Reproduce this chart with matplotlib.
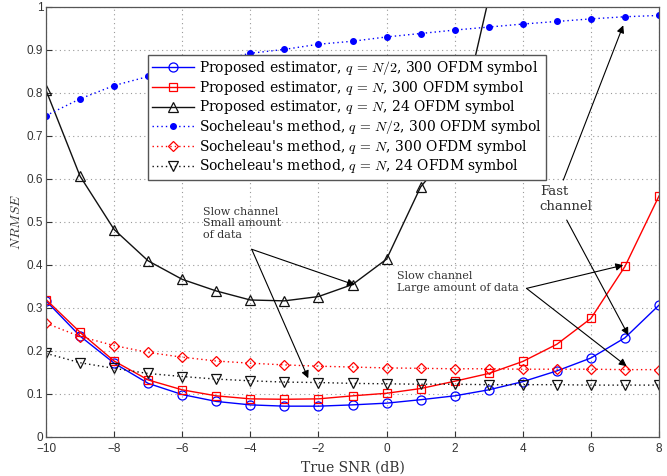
import matplotlib
matplotlib.use("Agg")
import matplotlib.pyplot as plt
import numpy as np

snr = [-10, -9, -8, -7, -6, -5, -4, -3, -2, -1, 0, 1, 2, 3, 4, 5, 6, 7, 8]

prop_half_300 = [0.316, 0.234, 0.171, 0.124, 0.098, 0.082, 0.074, 0.071, 0.071, 0.074,
                 0.078, 0.086, 0.095, 0.109, 0.128, 0.153, 0.183, 0.230, 0.306]
prop_n_300 = [0.319, 0.243, 0.176, 0.132, 0.109, 0.095, 0.088, 0.087, 0.088, 0.095,
              0.101, 0.112, 0.129, 0.147, 0.175, 0.215, 0.275, 0.396, 0.560]
prop_n_24 = [0.806, 0.606, 0.482, 0.409, 0.366, 0.339, 0.318, 0.316, 0.326, 0.354,
             0.413, 0.581, 0.676, 1.02]
snr_24 = snr[:len(prop_n_24)]

soch_half_300 = [0.747, 0.786, 0.817, 0.838, 0.857, 0.874, 0.892, 0.901, 0.913, 0.920,
                 0.930, 0.938, 0.946, 0.953, 0.960, 0.966, 0.972, 0.977, 0.980]
soch_n_300 = [0.264, 0.233, 0.212, 0.196, 0.185, 0.176, 0.171, 0.167, 0.164, 0.162,
              0.160, 0.159, 0.158, 0.158, 0.157, 0.157, 0.157, 0.156, 0.156]
soch_n_24 = [0.194, 0.172, 0.159, 0.147, 0.140, 0.134, 0.130, 0.127, 0.126, 0.124,
             0.123, 0.122, 0.122, 0.121, 0.121, 0.121, 0.120, 0.120, 0.120]

labels = [
    r"Proposed estimator, $q\,=\,N/2$, 300 OFDM symbol",
    r"Proposed estimator, $q\,=\,N$, 300 OFDM symbol",
    r"Proposed estimator, $q\,=\,N$, 24 OFDM symbol",
    r"Socheleau's method, $q\,=\,N/2$, 300 OFDM symbol",
    r"Socheleau's method, $q\,=\,N$, 300 OFDM symbol",
    r"Socheleau's method, $q\,=\,N$, 24 OFDM symbol",
]

plt.rcParams['mathtext.fontset'] = 'cm'
serif = 'DejaVu Serif'
sans = 'Liberation Sans'

fig = plt.figure(figsize=(6.67, 4.76), dpi=100)
ax = fig.add_axes([0.069, 0.0826, 0.919, 0.903])

dot = (0, (1, 2.2))
ax.plot(snr, prop_half_300, '-', color='#0000ff', lw=1.0, marker='o', ms=6.5,
        mfc='none', mec='#0000ff', mew=0.9, label=labels[0])
ax.plot(snr, prop_n_300, '-', color='#ff0000', lw=1.0, marker='s', ms=6,
        mfc='none', mec='#ff0000', mew=0.9, label=labels[1])
ax.plot(snr_24, prop_n_24, '-', color='#111111', lw=1.0, marker='^', ms=7,
        mfc='none', mec='#111111', mew=0.9, label=labels[2])
ax.plot(snr, soch_half_300, linestyle=dot, color='#0000ff', lw=1.0, marker='o', ms=4,
        mfc='#0000ff', mec='#0000ff', label=labels[3])
ax.plot(snr, soch_n_300, linestyle=dot, color='#ff0000', lw=1.0, marker='D', ms=5.5,
        mfc='none', mec='#ff0000', mew=0.9, label=labels[4])
ax.plot(snr, soch_n_24, linestyle=dot, color='#111111', lw=1.0, marker='v', ms=7,
        mfc='none', mec='#111111', mew=0.9, label=labels[5])

ax.set_xlim(-10, 8)
ax.set_ylim(0, 1)
xt = np.arange(-10, 9, 2)
yt = np.round(np.arange(0, 1.01, 0.1), 1)
ax.set_xticks(xt)
ax.set_yticks(yt)
ax.set_xticklabels([f"{v:g}".replace('-', '\u2212') for v in xt], family=sans)
ax.set_yticklabels([f"{v:g}" for v in yt], family=sans)
ax.tick_params(direction='in', length=4, labelsize=8.5, colors='#333333')
ax.tick_params(axis='x', pad=4.5)
ax.tick_params(axis='y', pad=2)
ax.grid(True, linestyle=(0, (1, 3)), color='#999999', lw=0.8)
for s in ax.spines.values():
    s.set_color('#555555')
    s.set_linewidth(0.9)

ax.set_xlabel("True SNR (dB)", family=serif, fontsize=10, color='#333333', labelpad=4)
ax.set_ylabel(r"$NRMSE$", fontsize=10, color='#333333')
ax.yaxis.set_label_coords(-0.038, 0.5)

leg = ax.legend(loc='upper left', bbox_to_anchor=(0.166, 0.888), fancybox=False,
                framealpha=1, edgecolor='#555555', handlelength=3.0,
                prop={'family': serif, 'size': 10.0}, borderpad=0.3,
                labelspacing=0.12, handletextpad=0.4, borderaxespad=0)
leg.get_frame().set_linewidth(1.0)

ap = dict(arrowstyle='-|>', color='k', lw=0.8, mutation_scale=11, shrinkA=0, shrinkB=0)
tfont = dict(family=serif, fontsize=8, color='#333333')

ax.text(-5.4, 0.535, "Slow channel\nSmall amount\nof data", va='top', ha='left',
        linespacing=1.2, **tfont)
ax.annotate("", xy=(-0.93, 0.353), xytext=(-3.96, 0.436), arrowprops=ap)
ax.annotate("", xy=(-2.30, 0.136), xytext=(-3.96, 0.436), arrowprops=ap)

ax.text(0.3, 0.385, "Slow channel\nLarge amount of data", va='top', ha='left',
        linespacing=1.2, **tfont)
ax.annotate("", xy=(6.95, 0.399), xytext=(4.11, 0.345), arrowprops=ap)
ax.annotate("", xy=(7.05, 0.164), xytext=(4.11, 0.345), arrowprops=ap)

ax.text(4.5, 0.585, "Fast\nchannel", va='top', ha='left', linespacing=1.2,
        family=serif, fontsize=9.5, color='#333333')
ax.annotate("", xy=(6.95, 0.957), xytext=(5.19, 0.597), arrowprops=ap)
ax.annotate("", xy=(7.10, 0.236), xytext=(5.29, 0.504), arrowprops=ap)

fig.savefig("out.png", dpi=100)
